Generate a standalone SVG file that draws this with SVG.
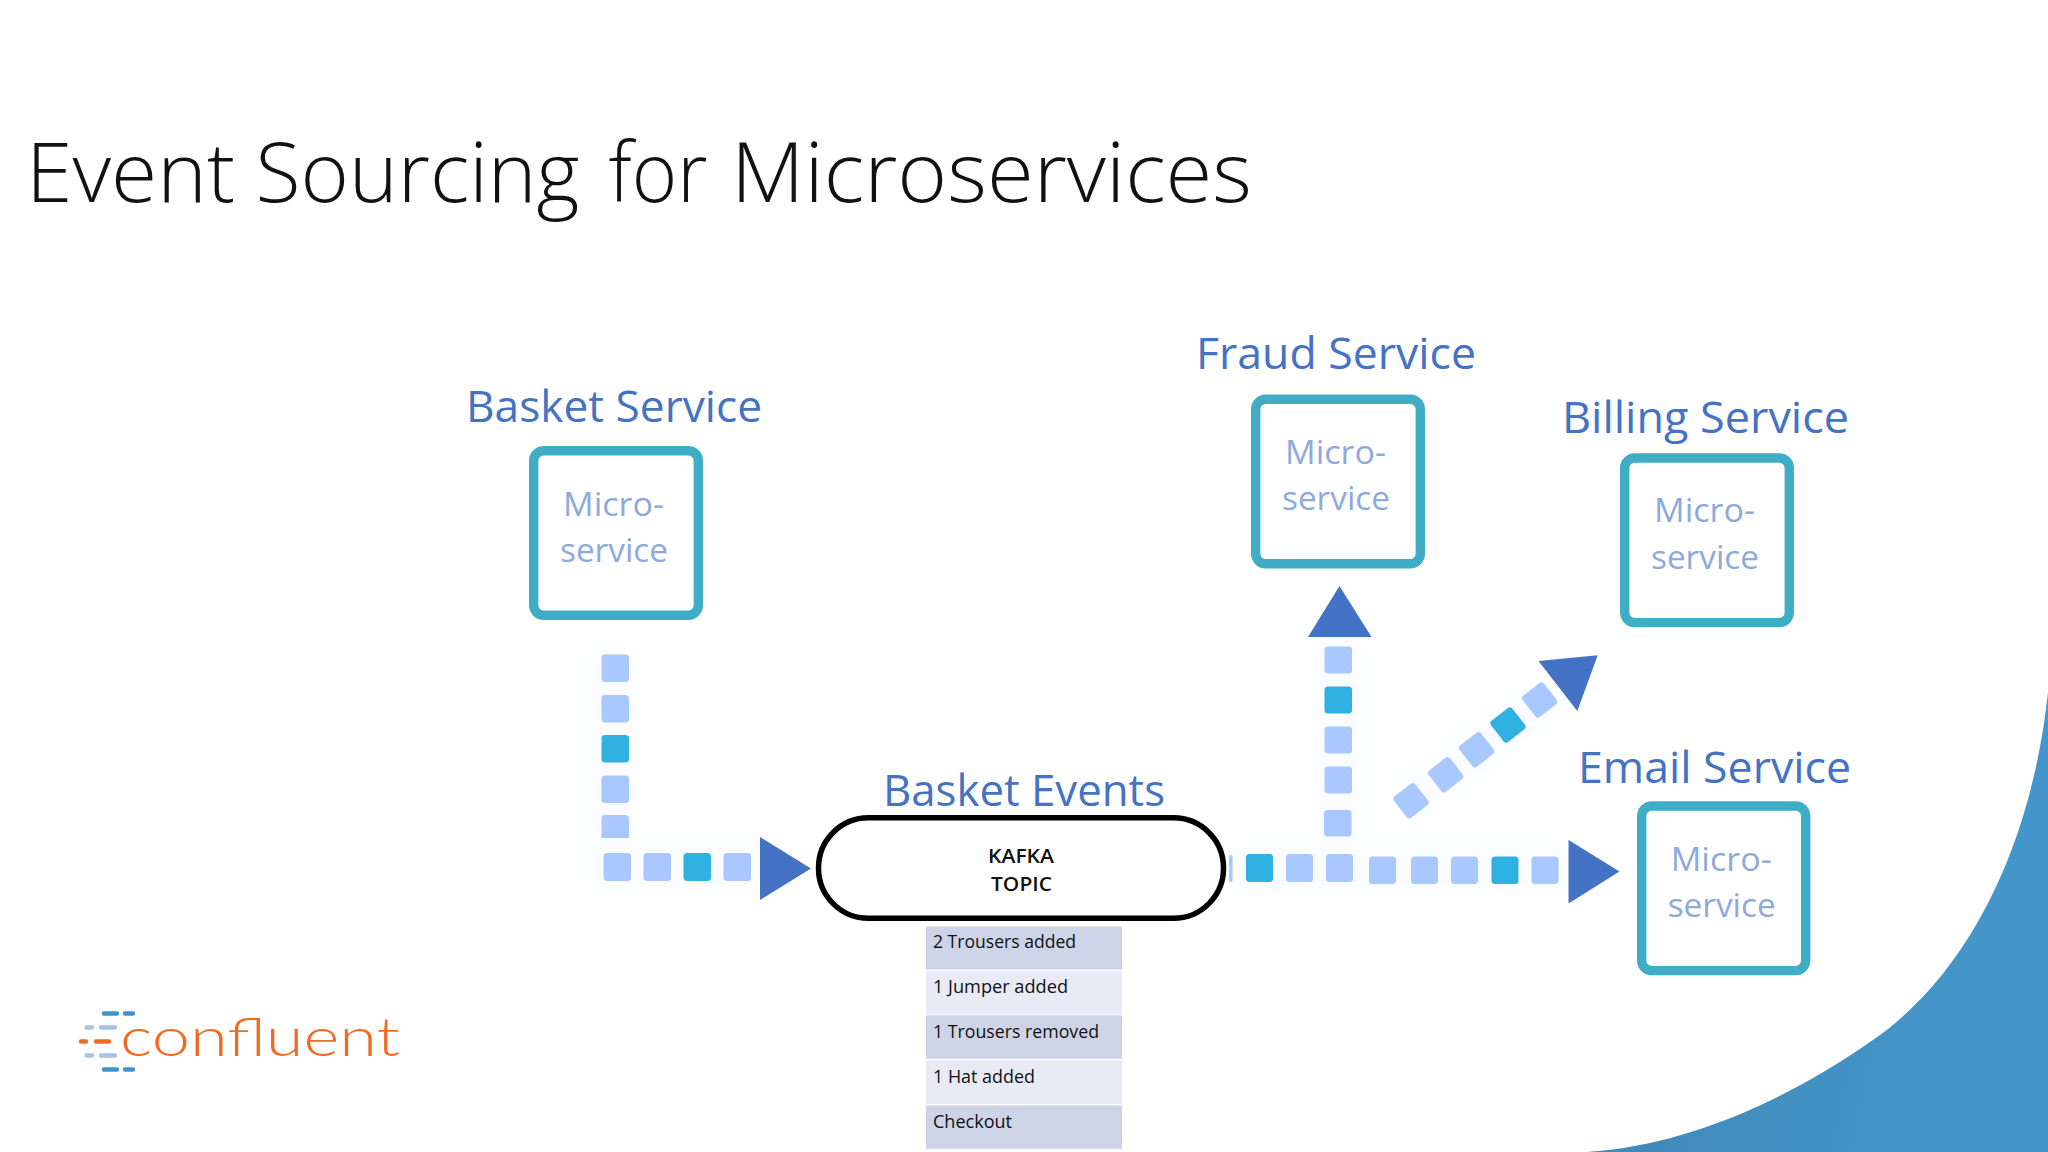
<svg xmlns="http://www.w3.org/2000/svg" width="2048" height="1152" viewBox="0 0 2048 1152">
<defs>
<linearGradient id="wave" x1="0" y1="0" x2="1" y2="0.2"><stop offset="0" stop-color="#3F85B2"/><stop offset="1" stop-color="#4597CB"/></linearGradient>
<filter id="glow" x="-30%" y="-30%" width="160%" height="160%"><feGaussianBlur stdDeviation="8"/></filter>
</defs>
<style>
.title{font-family:"Open Sans","Noto Sans",sans-serif;font-weight:300;font-size:83px;fill:#111}
.label{font-family:"Open Sans","Noto Sans",sans-serif;font-size:43px;fill:#4472C4}
.micro{font-family:"Open Sans","Noto Sans",sans-serif;font-size:33px;fill:#8EAADB}
.box{fill:#fff;stroke:#3FADC6;stroke-width:9.4}
.sq{fill:#A8C8FF}
.tq{fill:#2FB2E2}
.tri{fill:#4472C4}
.row1{fill:#CDD4E8}
.row2{fill:#E8EBF5}
.cell{font-family:"Open Sans","Noto Sans",sans-serif;font-size:19px;fill:#111}
.kafka{font-family:"Open Sans","Noto Sans",sans-serif;font-weight:600;font-size:19px;fill:#111}
.halo{stroke:#FAFCFF;stroke-width:46;fill:none;filter:url(#glow)}
.dash{stroke-width:4.4;stroke-linecap:round;fill:none}
.word{font-family:"Lato","Open Sans",sans-serif;font-size:53px;font-weight:300;fill:#F26A21}
</style>
<rect width="2048" height="1152" fill="#fff"/>
<path id="wave-shape" d="M1587 1152C1680 1146 1780 1105 1873 1040C1960 980 2030 860 2048 692V1152Z" fill="url(#wave)"/>
<text class="title" y="202"><tspan x="26" textLength="209" lengthAdjust="spacingAndGlyphs">Event</tspan> <tspan x="255.500" textLength="324" lengthAdjust="spacingAndGlyphs">Sourcing</tspan> <tspan x="608.500" textLength="99" lengthAdjust="spacingAndGlyphs">for</tspan> <tspan x="731" textLength="521" lengthAdjust="spacingAndGlyphs">Microservices</tspan></text>

<g id="logo">
<path class="dash" stroke="#3F93CE" d="M104 1013.5H117M125 1013.5H133M104 1069.5H117M125 1069.5H133"/>
<path class="dash" stroke="#A9C2E6" d="M86.500 1027.500H92M101 1027.500H115M86.500 1055.500H92M101 1055.500H115"/>
<path class="dash" stroke="#F26A21" d="M81 1041.500H86M96 1041.500H109"/>
<text class="word" x="120" y="1055.500" textLength="280" lengthAdjust="spacingAndGlyphs">confluent</text>
</g>

<g id="connectors">
<path class="halo" d="M615 650V866H760"/>
<path class="halo" d="M1235 868H1570M1338 860V640M1410 800L1540 700"/>
<g id="flow-in">
<rect class="sq" x="601.500" y="654.500" width="27.500" height="27.500" rx="3.500"/>
<rect class="sq" x="601.500" y="695" width="27.500" height="27.500" rx="3.500"/>
<rect class="tq" x="601.500" y="735" width="27.500" height="27.500" rx="3.500"/>
<rect class="sq" x="601.500" y="775.500" width="27.500" height="27.500" rx="3.500"/>
<path class="sq" d="M605 815H625.500A3.500 3.500 0 0 1 629 818.500V838H601.500V818.500A3.500 3.500 0 0 1 605 815Z"/>
<rect class="sq" x="603.500" y="853" width="27.500" height="28" rx="3.500"/>
<rect class="sq" x="643.500" y="853" width="27.500" height="28" rx="3.500"/>
<rect class="tq" x="683.500" y="853" width="27.500" height="28" rx="3.500"/>
<rect class="sq" x="723.500" y="853" width="27.500" height="28" rx="3.500"/>
<polygon class="tri" points="760,837 811,868.500 760,900"/>
</g>
<g id="flow-email">
<rect class="sq" x="1229" y="855" width="3.500" height="27" rx="1.500"/>
<rect class="tq" x="1246" y="854" width="27" height="28" rx="3.500"/>
<rect class="sq" x="1286" y="854" width="27" height="28" rx="3.500"/>
<rect class="sq" x="1326" y="854" width="27" height="28" rx="3.500"/>
<rect class="sq" x="1369" y="856.500" width="27" height="27.500" rx="3.500"/>
<rect class="sq" x="1411" y="856.500" width="27" height="27.500" rx="3.500"/>
<rect class="sq" x="1451" y="856.500" width="27" height="27.500" rx="3.500"/>
<rect class="tq" x="1491.500" y="856.500" width="27" height="27.500" rx="3.500"/>
<rect class="sq" x="1531.500" y="856.500" width="27" height="27.500" rx="3.500"/>
<polygon class="tri" points="1568.500,840 1619.500,871.500 1568.500,903.500"/>
</g>
<g id="flow-fraud">
<rect class="sq" x="1324.500" y="646.500" width="27.500" height="27" rx="3.500"/>
<rect class="tq" x="1324.500" y="686.500" width="27.500" height="27" rx="3.500"/>
<rect class="sq" x="1324.500" y="726.500" width="27.500" height="27" rx="3.500"/>
<rect class="sq" x="1324.500" y="766.500" width="27.500" height="27" rx="3.500"/>
<rect class="sq" x="1324" y="810" width="27.500" height="26.500" rx="3.500"/>
<polygon class="tri" points="1339.500,586 1371.500,637 1308,637"/>
</g>
<g id="flow-billing">
<rect class="sq" x="-13.500" y="-13.500" width="27" height="27" rx="3.500" transform="translate(1411 800.700) rotate(-38)"/>
<rect class="sq" x="-13.500" y="-13.500" width="27" height="27" rx="3.500" transform="translate(1445.700 774.700) rotate(-38)"/>
<rect class="sq" x="-13.500" y="-13.500" width="27" height="27" rx="3.500" transform="translate(1476.700 749.700) rotate(-38)"/>
<rect class="tq" x="-13.500" y="-13.500" width="27" height="27" rx="3.500" transform="translate(1508 725) rotate(-38)"/>
<rect class="sq" x="-13.500" y="-13.500" width="27" height="27" rx="3.500" transform="translate(1539.700 700) rotate(-38)"/>
<polygon class="tri" points="1538.500,661 1597.700,655.300 1577.300,711"/>
</g>
</g>

<g id="basket-service">
<text class="label" x="466" y="421.500" textLength="296" lengthAdjust="spacingAndGlyphs">Basket Service</text>
<rect class="box" x="533.700" y="450.700" width="164.600" height="164.600" rx="10"/>
<text class="micro" x="563" y="516" textLength="101" lengthAdjust="spacingAndGlyphs">Micro-</text>
<text class="micro" x="560" y="562" textLength="108" lengthAdjust="spacingAndGlyphs">service</text>
</g>
<g id="fraud-service">
<text class="label" x="1196" y="369" textLength="280" lengthAdjust="spacingAndGlyphs">Fraud Service</text>
<rect class="box" x="1255.700" y="399.200" width="164.600" height="164.600" rx="10"/>
<text class="micro" x="1285" y="463.500" textLength="101" lengthAdjust="spacingAndGlyphs">Micro-</text>
<text class="micro" x="1282" y="509.500" textLength="108" lengthAdjust="spacingAndGlyphs">service</text>
</g>
<g id="billing-service">
<text class="label" x="1562" y="432.500" textLength="287" lengthAdjust="spacingAndGlyphs">Billing Service</text>
<rect class="box" x="1624.700" y="458" width="164.600" height="164.600" rx="10"/>
<text class="micro" x="1654" y="522" textLength="101" lengthAdjust="spacingAndGlyphs">Micro-</text>
<text class="micro" x="1651" y="569" textLength="108" lengthAdjust="spacingAndGlyphs">service</text>
</g>
<g id="email-service">
<text class="label" x="1578" y="782.700" textLength="273" lengthAdjust="spacingAndGlyphs">Email Service</text>
<rect class="box" x="1641.700" y="806" width="164" height="164.600" rx="10"/>
<text class="micro" x="1670.700" y="870.700" textLength="101" lengthAdjust="spacingAndGlyphs">Micro-</text>
<text class="micro" x="1667.700" y="916.700" textLength="108" lengthAdjust="spacingAndGlyphs">service</text>
</g>

<g id="kafka-topic">
<text class="label" x="883" y="805.500" textLength="282" lengthAdjust="spacingAndGlyphs">Basket Events</text>
<rect x="818.500" y="817.800" width="405" height="100.500" rx="50" fill="#fff" stroke="#000" stroke-width="5.500"/>
<text class="kafka" x="988" y="862.700" textLength="66" lengthAdjust="spacingAndGlyphs">KAFKA</text>
<text class="kafka" x="991" y="890.700" textLength="61" lengthAdjust="spacingAndGlyphs">TOPIC</text>
</g>

<g id="event-table">
<rect class="row1" x="926" y="926.500" width="196" height="43"/>
<rect class="row2" x="926" y="970.700" width="196" height="43.500"/>
<rect class="row1" x="926" y="1015.300" width="196" height="43.500"/>
<rect class="row2" x="926" y="1060.300" width="196" height="43.700"/>
<rect class="row1" x="926" y="1105.300" width="196" height="43.500"/>
<text class="cell" x="933" y="948" textLength="143" lengthAdjust="spacingAndGlyphs">2 Trousers added</text>
<text class="cell" x="933" y="993.300" textLength="135" lengthAdjust="spacingAndGlyphs">1 Jumper added</text>
<text class="cell" x="933" y="1038.300" textLength="166" lengthAdjust="spacingAndGlyphs">1 Trousers removed</text>
<text class="cell" x="933" y="1083.300" textLength="102" lengthAdjust="spacingAndGlyphs">1 Hat added</text>
<text class="cell" x="933" y="1127.700" textLength="79" lengthAdjust="spacingAndGlyphs">Checkout</text>
</g>
</svg>
